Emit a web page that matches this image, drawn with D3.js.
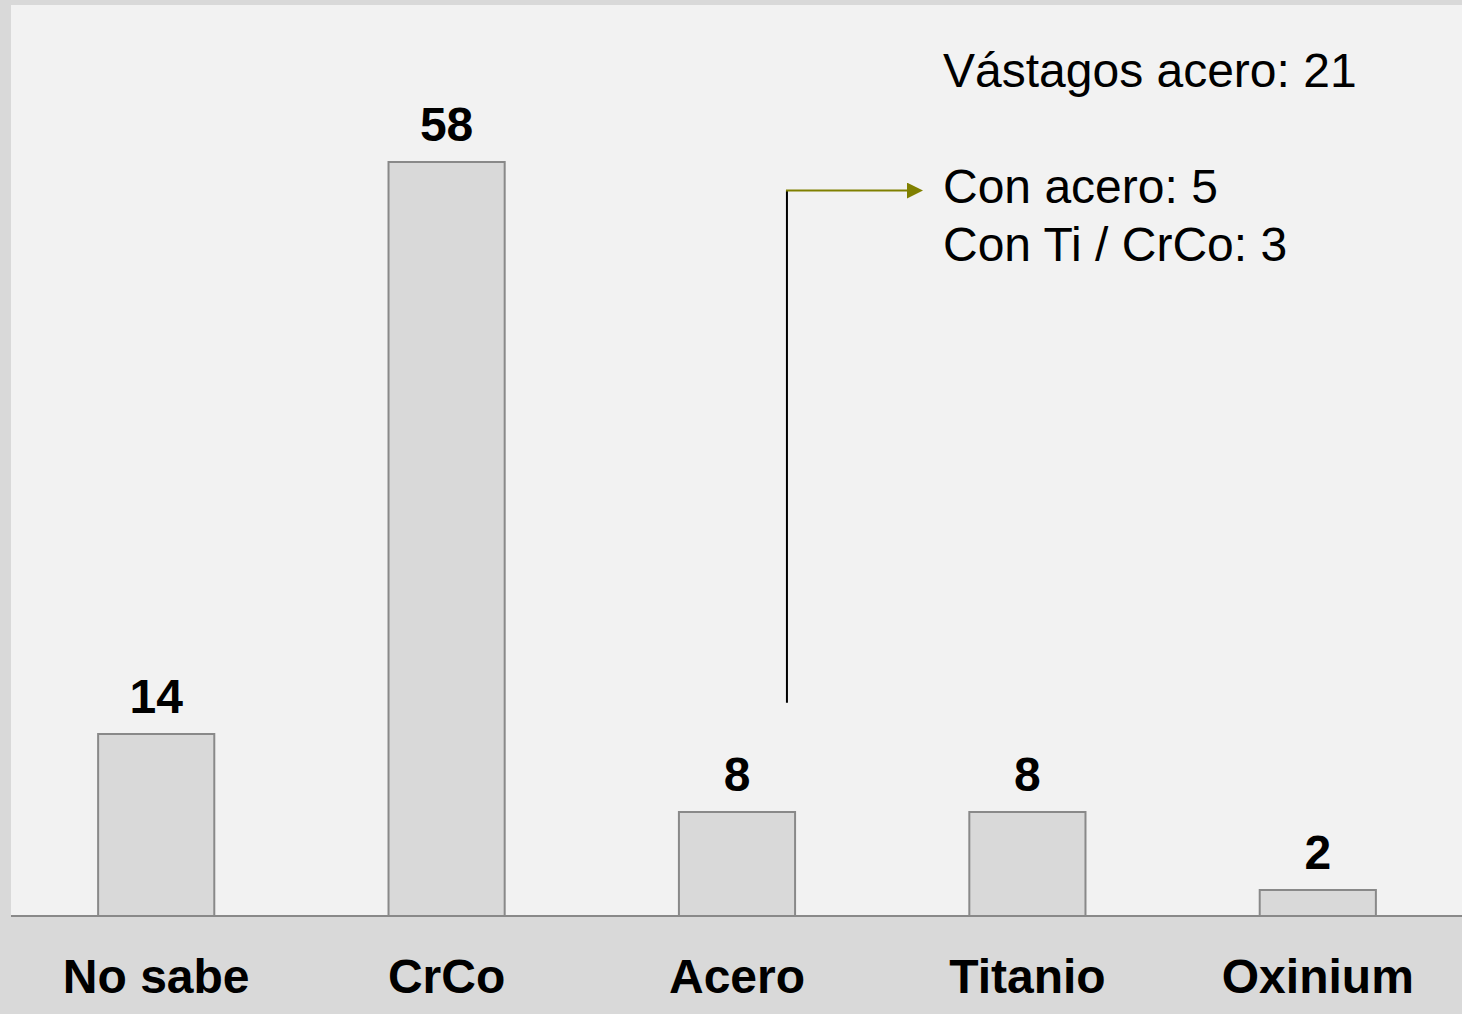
<!DOCTYPE html>
<html>
<head>
<meta charset="utf-8">
<script src="https://cdn.jsdelivr.net/npm/d3@7"></script>
<style>
  html, body { margin: 0; padding: 0; background: #d9d9d9; }
  svg { display: block; font-family: "Liberation Sans", Arial, sans-serif; }
</style>
</head>
<body>
<script>
var categories = ["No sabe", "CrCo", "Acero", "Titanio", "Oxinium"];
var values = [14, 58, 8, 8, 2];
var noteLines = ["Vástagos acero: 21", "", "Con acero: 5", "Con Ti / CrCo: 3"];
// connector goes from Acero up to the note (in data units)
var noteFrom = 16.4, noteTo = 55.8;

var WIDTH = 1462,
    HEIGHT = 1014;

var plot = {left: 11, right: 1463, top: 6, bottom: 916};

var svg = d3.select("body").append("svg")
    .attr("width", WIDTH)
    .attr("height", HEIGHT);

// grey outer, light panel
svg.append("rect")
    .attr("width", WIDTH).attr("height", HEIGHT)
    .attr("fill", "#d9d9d9");
svg.append("rect")
    .attr("x", plot.left).attr("y", 5)
    .attr("width", WIDTH - plot.left).attr("height", plot.bottom - 5)
    .attr("fill", "#f2f2f2");

var x = d3.scaleBand()
    .domain(categories)
    .range([plot.left, plot.right])
    .paddingInner(0.6)
    .paddingOuter(0.3);

var y = d3.scaleLinear()
    .domain([0, 70])
    .range([plot.bottom, plot.top]);

var data = categories.map(function(c, i){ return {cat: c, val: values[i]}; });

svg.selectAll("rect.bar")
    .data(data)
  .enter().append("rect")
    .attr("class", "bar")
    .attr("x", function(d){ return x(d.cat); })
    .attr("y", function(d){ return y(d.val); })
    .attr("width", x.bandwidth())
    .attr("height", function(d){ return y(0) - y(d.val); })
    .attr("fill", "#d9d9d9")
    .attr("stroke", "#898989")
    .attr("stroke-width", 2);

// value labels
svg.selectAll("text.val")
    .data(data)
  .enter().append("text")
    .attr("class", "val")
    .attr("x", function(d){ return x(d.cat) + x.bandwidth() / 2; })
    .attr("y", function(d){ return y(d.val) - 21; })
    .attr("text-anchor", "middle")
    .attr("font-size", 48)
    .attr("font-weight", "bold")
    .attr("fill", "#000")
    .text(function(d){ return d.val; });

// x axis
var xAxis = svg.append("g")
    .attr("transform", "translate(0," + y(0) + ")")
    .call(d3.axisBottom(x).tickSize(0).tickPadding(77));
xAxis.select(".domain")
    .attr("d", "M" + plot.left + ",0H" + WIDTH)
    .attr("stroke", "#898989")
    .attr("stroke-width", 2);
xAxis.selectAll(".tick text")
    .attr("dy", 0)
    .attr("font-family", "\"Liberation Sans\", Arial, sans-serif")
    .attr("font-size", 48)
    .attr("font-weight", "bold")
    .attr("fill", "#000");

// annotation connector
var cx = x("Acero") + x.bandwidth() * 0.93;
svg.append("line")
    .attr("x1", cx).attr("x2", cx)
    .attr("y1", y(noteFrom)).attr("y2", y(noteTo))
    .attr("stroke", "#000")
    .attr("stroke-width", 2);

svg.append("defs").append("marker")
    .attr("id", "arrow")
    .attr("viewBox", "0 0 10 10")
    .attr("refX", 0).attr("refY", 5)
    .attr("markerWidth", 8).attr("markerHeight", 8)
    .attr("markerUnits", "strokeWidth")
    .attr("orient", "auto")
  .append("path")
    .attr("d", "M0,0L10,5L0,10Z")
    .attr("fill", "#808000");

svg.append("line")
    .attr("x1", cx - 1).attr("x2", 907)
    .attr("y1", y(noteTo)).attr("y2", y(noteTo))
    .attr("stroke", "#808000")
    .attr("stroke-width", 2)
    .attr("marker-end", "url(#arrow)");

// note text
svg.append("g").selectAll("text")
    .data(noteLines)
  .enter().append("text")
    .attr("x", 943)
    .attr("y", function(d, i){ return 87 + i * 58; })
    .attr("font-size", 48)
    .attr("fill", "#000")
    .text(function(d){ return d; });
</script>
</body>
</html>
